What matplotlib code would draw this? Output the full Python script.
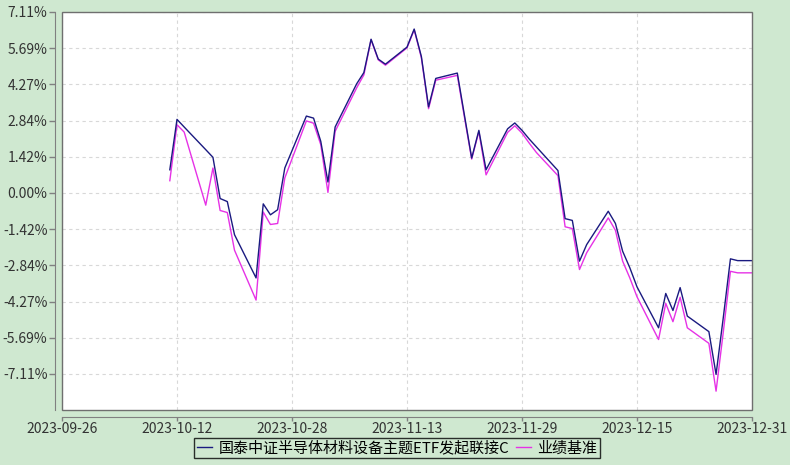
import matplotlib
matplotlib.use("Agg")
import matplotlib.pyplot as plt
from matplotlib.patches import Rectangle
import pandas as pd

plt.rcParams['font.family'] = ['Noto Sans CJK SC', 'DejaVu Sans']

dates = [
    "2023-10-11", "2023-10-12", "2023-10-13", "2023-10-16", "2023-10-17", "2023-10-18", "2023-10-19",
    "2023-10-20", "2023-10-23", "2023-10-24", "2023-10-25", "2023-10-26", "2023-10-27", "2023-10-30",
    "2023-10-31", "2023-11-01", "2023-11-02", "2023-11-03", "2023-11-06", "2023-11-07", "2023-11-08",
    "2023-11-09", "2023-11-10", "2023-11-13", "2023-11-14", "2023-11-15", "2023-11-16", "2023-11-17",
    "2023-11-20", "2023-11-21", "2023-11-22", "2023-11-23", "2023-11-24", "2023-11-27", "2023-11-28",
    "2023-11-29", "2023-11-30", "2023-12-01", "2023-12-04", "2023-12-05", "2023-12-06", "2023-12-07",
    "2023-12-08", "2023-12-11", "2023-12-12", "2023-12-13", "2023-12-14", "2023-12-15", "2023-12-18",
    "2023-12-19", "2023-12-20", "2023-12-21", "2023-12-22", "2023-12-25", "2023-12-26", "2023-12-27",
    "2023-12-28", "2023-12-29", "2023-12-31",
]

fund = [
    0.91, 2.89, 2.59, 1.70, 1.40, -0.22, -0.34,
    -1.64, -3.34, -0.43, -0.86, -0.66, 0.98, 3.02,
    2.94, 2.03, 0.43, 2.59, 4.29, 4.73, 6.04,
    5.26, 5.06, 5.73, 6.44, 5.36, 3.38, 4.50,
    4.71, 3.04, 1.37, 2.46, 0.91, 2.52, 2.75,
    2.46, 2.12, 1.81, 0.88, -1.01, -1.08, -2.68,
    -2.03, -0.72, -1.20, -2.29, -2.94, -3.69, -5.30,
    -3.95, -4.62, -3.72, -4.84, -5.45, -7.13, -4.91,
    -2.59, -2.66, -2.66,
]

bench = [
    0.48, 2.68, 2.39, -0.48, 0.98, -0.69, -0.77,
    -2.25, -4.21, -0.75, -1.24, -1.20, 0.59, 2.83,
    2.74, 1.90, 0.02, 2.42, 4.13, 4.64, 6.02,
    5.23, 5.02, 5.70, 6.41, 5.31, 3.31, 4.43,
    4.62, 2.96, 1.33, 2.41, 0.71, 2.38, 2.64,
    2.35, 1.96, 1.59, 0.68, -1.33, -1.40, -3.01,
    -2.35, -0.98, -1.47, -2.68, -3.34, -4.08, -5.76,
    -4.34, -5.06, -4.10, -5.30, -5.91, -7.79, -5.48,
    -3.08, -3.14, -3.14,
]

x_ticks = ["2023-09-26", "2023-10-12", "2023-10-28", "2023-11-13", "2023-11-29", "2023-12-15", "2023-12-31"]
y_ticks = [-7.11, -5.69, -4.27, -2.84, -1.42, 0.00, 1.42, 2.84, 4.27, 5.69, 7.11]

fund_name = "国泰中证半导体材料设备主题ETF发起联接C"
bench_name = "业绩基准"

bg = '#cfe8d0'
fig = plt.figure(figsize=(7.9, 4.65), dpi=100, facecolor=bg)
ax = fig.add_axes([62/790, 1 - 410/465, (752-62)/790, (410-12)/465])
ax.set_facecolor('white')

d = pd.to_datetime(dates)
ax.plot(d, fund, color='#1a1a80', lw=1.0, label=fund_name, zorder=3)
ax.plot(d, bench, color='#e632e6', lw=1.0, label=bench_name, zorder=2)

xt = pd.to_datetime(x_ticks)
ax.set_xlim(xt[0], xt[-1])
ax.set_ylim(-8.53, 7.11)
ax.set_xticks(xt)
ax.set_xticklabels(x_ticks, fontsize=8.5, color='#333333', family='DejaVu Sans')
ax.set_yticks(y_ticks)
ax.set_yticklabels([f"{v:.2f}%" for v in y_ticks], fontsize=8.8, color='#333333', family='DejaVu Sans')

ax.grid(True, color='#d8d8d8', lw=0.8, linestyle=(0, (3, 3)))
ax.set_axisbelow(True)

for s in ['top', 'right']:
    ax.spines[s].set_visible(False)
for s in ['left', 'bottom']:
    ax.spines[s].set_position(('outward', 5))
    ax.spines[s].set_color('#808080')
ax.add_patch(Rectangle((0, 0), 1, 1, transform=ax.transAxes, fill=False,
                       edgecolor='#6f6f6f', lw=1.0, clip_on=False, zorder=5))
ax.tick_params(axis='both', colors='#808080', length=4, width=1, labelcolor='#333333')
ax.tick_params(axis='y', pad=1.5)
ax.tick_params(axis='x', length=3, pad=0.5)

leg = fig.legend(loc='lower center', bbox_to_anchor=(0.503, -0.002), ncol=2, frameon=True,
                 fontsize=10.8, handlelength=1.0, handletextpad=0.4, columnspacing=0.5,
                 borderpad=0.2, fancybox=False)
leg.get_frame().set_edgecolor('black')
leg.get_frame().set_facecolor(bg)
leg.get_frame().set_linewidth(1.0)

fig.savefig('out.png', dpi=100, facecolor=bg)
